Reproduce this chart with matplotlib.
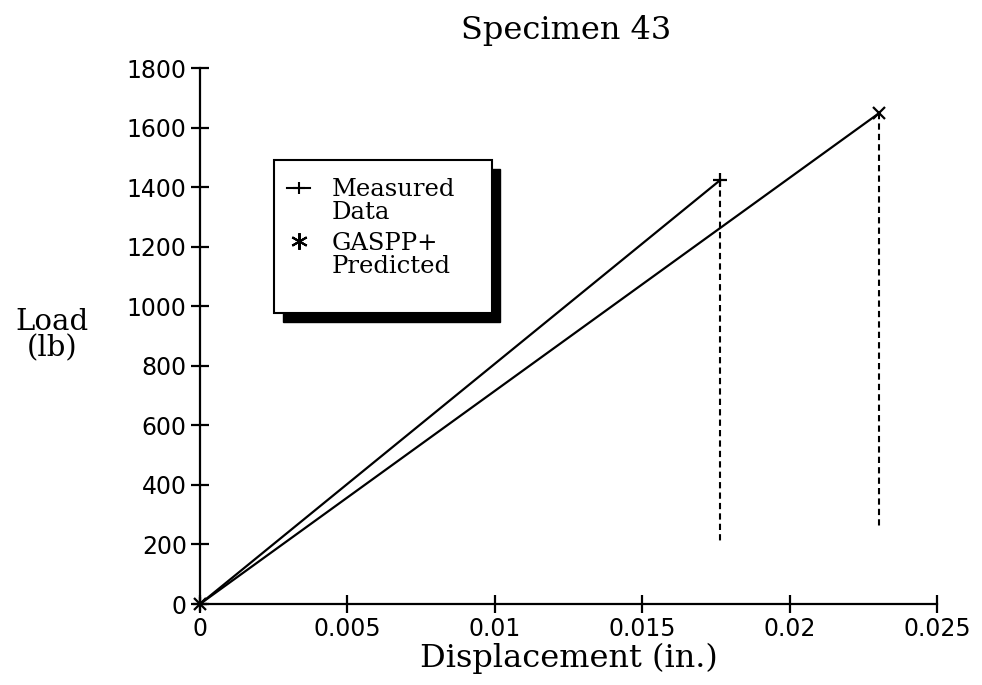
#!/usr/bin/env python

import matplotlib
matplotlib.use('Agg')
import matplotlib.pyplot as plt
from matplotlib.patches import Rectangle
from matplotlib.lines import Line2D

# data
meas_x = [0.0, 0.01764]
meas_y = [0.0, 1423.0]
meas_drop = 208.0

pred_x = [0.0, 0.02303]
pred_y = [0.0, 1648.0]
pred_drop = 258.0

xticks = [0, 0.005, 0.01, 0.015, 0.02, 0.025]
xlabels = ['0', '0.005', '0.01', '0.015', '0.02', '0.025']
yticks = [0, 200, 400, 600, 800, 1000, 1200, 1400, 1600, 1800]

serif = 'DejaVu Serif'

fig = plt.figure(figsize=(9.82, 6.85), dpi=100)
ax = fig.add_axes([200/982, 1 - 604/685, 737/982, 536/685])

ax.plot(meas_x, meas_y, color='black', lw=1.6, marker='+', ms=10, mew=1.6, clip_on=False)
ax.plot(pred_x, pred_y, color='black', lw=1.6, marker='x', ms=9, mew=1.6, clip_on=False)
ax.plot([meas_x[-1], meas_x[-1]], [meas_y[-1], meas_drop], color='black', lw=1.5, ls=(0, (3, 2)))
ax.plot([pred_x[-1], pred_x[-1]], [pred_y[-1], pred_drop], color='black', lw=1.5, ls=(0, (3, 2)))

ax.set_xlim(0, 0.025)
ax.set_ylim(0, 1800)
ax.set_xticks(xticks)
ax.set_xticklabels(xlabels)
ax.set_yticks(yticks)
for s in ['top', 'right']:
	ax.spines[s].set_visible(False)
for s in ['left', 'bottom']:
	ax.spines[s].set_linewidth(1.6)
ax.tick_params(direction='inout', length=13, width=1.6, labelsize=17, pad=3)

ax.set_xlabel('Displacement (in.)', fontsize=23, family=serif, labelpad=1)
fig.text(52/982, 1 - 335/685, 'Load\n(lb)', fontsize=21, family=serif,
	ha='center', va='center', linespacing=0.95)
fig.text(566/982, 1 - 30/685, 'Specimen 43', fontsize=23, family=serif,
	ha='center', va='center')

# legend box with solid shadow, drawn in figure pixels
def fx(px):
	return px / 982.0

def fy(py):
	return 1 - py / 685.0

shadow = Rectangle((fx(283), fy(322)), fx(500) - fx(283), fy(169) - fy(322),
	transform=fig.transFigure, facecolor='black', edgecolor='black', zorder=5)
box = Rectangle((fx(274), fy(313)), fx(492) - fx(274), fy(160) - fy(313),
	transform=fig.transFigure, facecolor='white', edgecolor='black', lw=1.5, zorder=6)
fig.patches.extend([shadow, box])

fig.lines.append(Line2D([fx(287), fx(299), fx(310)], [fy(188), fy(188), fy(188)],
	transform=fig.transFigure, color='black', lw=1.5, marker='+', ms=9, mew=1.5,
	markevery=[1], zorder=7))
fig.lines.append(Line2D([fx(299)], [fy(241)], transform=fig.transFigure,
	color='black', lw=0, marker=(6, 2, 0), ms=12, mew=1.5, zorder=7))

fig.text(fx(332), fy(201), 'Measured\nData', fontsize=17.5, family=serif,
	ha='left', va='center', linespacing=0.95, zorder=7)
fig.text(fx(332), fy(255), 'GASPP+\nPredicted', fontsize=17.5, family=serif,
	ha='left', va='center', linespacing=0.95, zorder=7)

fig.savefig('out.png', dpi=100)
